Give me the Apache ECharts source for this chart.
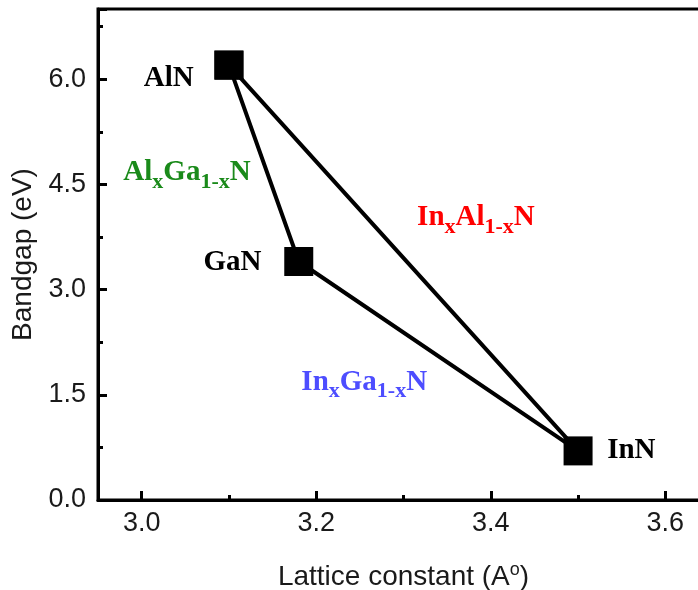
<!DOCTYPE html>
<html>
<head>
<meta charset="utf-8">
<script src="https://cdn.jsdelivr.net/npm/echarts@6/dist/echarts.min.js"></script>
<style>
html,body{margin:0;padding:0;background:#fff;}
#chart{width:698px;height:590px;}
</style>
</head>
<body>
<div id="chart"></div>
<script>
// Binary nitride end points
const compounds = ['AlN', 'GaN', 'InN'];
const latticeConstant = [3.1, 3.18, 3.5];
const bandgap = [6.2, 3.4, 0.7];
// triangle order (indices into compounds)
const edgeOrder = [0, 1, 2, 0];

// alloy / compound annotations (text, anchor lattice constant, anchor bandgap)
const annotationText = ['AlN', 'GaN', 'InN', 'AlxGa1-xN', 'InxAl1-xN', 'InxGa1-xN'];
const annotationX = [3.031, 3.104, 3.561, 3.052, 3.383, 3.255];
const annotationY = [6.01, 3.39, 0.70, 4.67, 4.03, 1.68];

const xTickLabels = ['3.0', '3.2', '3.4', '3.6'];
const yTickLabels = ['0.0', '1.5', '3.0', '4.5', '6.0'];

const richFmt = {
  'AlN': '{k|AlN}',
  'GaN': '{k|GaN}',
  'InN': '{k|InN}',
  'AlxGa1-xN': '{g|Al}{gs|x}{g|Ga}{gs|1-x}{g|N}',
  'InxAl1-xN': '{r|In}{rs|x}{r|Al}{rs|1-x}{r|N}',
  'InxGa1-xN': '{b|In}{bs|x}{b|Ga}{bs|1-x}{b|N}'
};
const serif = 'Liberation Serif, Times New Roman, serif';
function main(color) { return {fontFamily: serif, fontWeight: 'bold', fontSize: 29, color: color, opacity: 1, verticalAlign: 'middle'}; }
function sub(color) { return {fontFamily: serif, fontWeight: 'bold', fontSize: 22, color: color, opacity: 1, padding: [19, 0, 0, 0], verticalAlign: 'middle'}; }
const rich = {
  k: main('#000000'),
  g: main('#1a8a1a'), gs: sub('#1a8a1a'),
  r: main('#ff0000'), rs: sub('#ff0000'),
  b: main('#4d4dff'), bs: sub('#4d4dff')
};

const lineData = edgeOrder.map(i => [latticeConstant[i], bandgap[i]]);
const annData = annotationText.map((t, i) => ({
  value: [annotationX[i], annotationY[i]],
  label: {formatter: richFmt[t]}
}));

function fmtTick(list) {
  return function (v) {
    const s = v.toFixed(1);
    return list.indexOf(s) >= 0 && Math.abs(v - parseFloat(s)) < 1e-6 ? s : '';
  };
}

const sans = 'Liberation Sans, Arial, sans-serif';
const chart = echarts.init(document.getElementById('chart'), null, {renderer: 'canvas'});
chart.setOption({
  backgroundColor: '#ffffff',
  animation: false,
  grid: {left: 98, top: 9, width: 611, height: 491, show: true, borderColor: '#000', borderWidth: 3,
         backgroundColor: 'transparent', containLabel: false, outerBoundsMode: 'none'},
  xAxis: [
    {
      type: 'value', min: 2.95, max: 3.65, splitNumber: 4, position: 'bottom',
      name: 'Lattice constant (A{sup|o})', nameLocation: 'middle', nameGap: 61,
      nameTextStyle: {fontFamily: sans, fontSize: 28, color: '#1a1a1a', rich: {sup: {fontFamily: sans, fontSize: 18, color: '#1a1a1a', verticalAlign: 'top', lineHeight: 32}}},
      axisLine: {show: true, onZero: false, lineStyle: {color: '#000', width: 3}},
      axisTick: {show: true, inside: true, length: 9, lineStyle: {color: '#000', width: 3}},
      axisLabel: {fontFamily: sans, fontSize: 27, color: '#1a1a1a', margin: 10, formatter: fmtTick(xTickLabels), showMinLabel: false, showMaxLabel: false},
      splitLine: {show: false}
    },
    {
      type: 'value', min: 2.95, max: 3.65, splitNumber: 7, position: 'bottom',
      axisLine: {show: false, onZero: false},
      axisTick: {show: true, inside: true, length: 5, lineStyle: {color: '#000', width: 3}},
      axisLabel: {show: false},
      splitLine: {show: false}
    }
  ],
  yAxis: [
    {
      type: 'value', min: 0, max: 7, interval: 1.5, position: 'left',
      name: 'Bandgap (eV)', nameLocation: 'middle', nameGap: 59,
      nameTextStyle: {fontFamily: sans, fontSize: 28, color: '#1a1a1a'},
      axisLine: {show: true, onZero: false, lineStyle: {color: '#000', width: 3}},
      axisTick: {show: true, inside: true, length: 9, lineStyle: {color: '#000', width: 3}},
      axisLabel: {fontFamily: sans, fontSize: 27, color: '#1a1a1a', margin: 12, formatter: fmtTick(yTickLabels)},
      splitLine: {show: false}
    },
    {
      type: 'value', min: 0, max: 7, interval: 0.75, position: 'left',
      axisLine: {show: false, onZero: false},
      axisTick: {show: true, inside: true, length: 5, lineStyle: {color: '#000', width: 3}},
      axisLabel: {show: false},
      splitLine: {show: false}
    }
  ],
  series: [
    {
      type: 'line', xAxisIndex: 0, yAxisIndex: 0,
      data: lineData,
      symbol: 'rect', symbolSize: 29,
      itemStyle: {color: '#000', opacity: 1},
      lineStyle: {color: '#000', width: 4},
      z: 3
    },
    {
      type: 'scatter', xAxisIndex: 0, yAxisIndex: 0,
      data: annData,
      symbolSize: 0,
      itemStyle: {opacity: 1},
      label: {show: true, position: 'inside', rich: rich, opacity: 1},
      silent: true,
      z: 4
    }
  ]
});
</script>
</body>
</html>
